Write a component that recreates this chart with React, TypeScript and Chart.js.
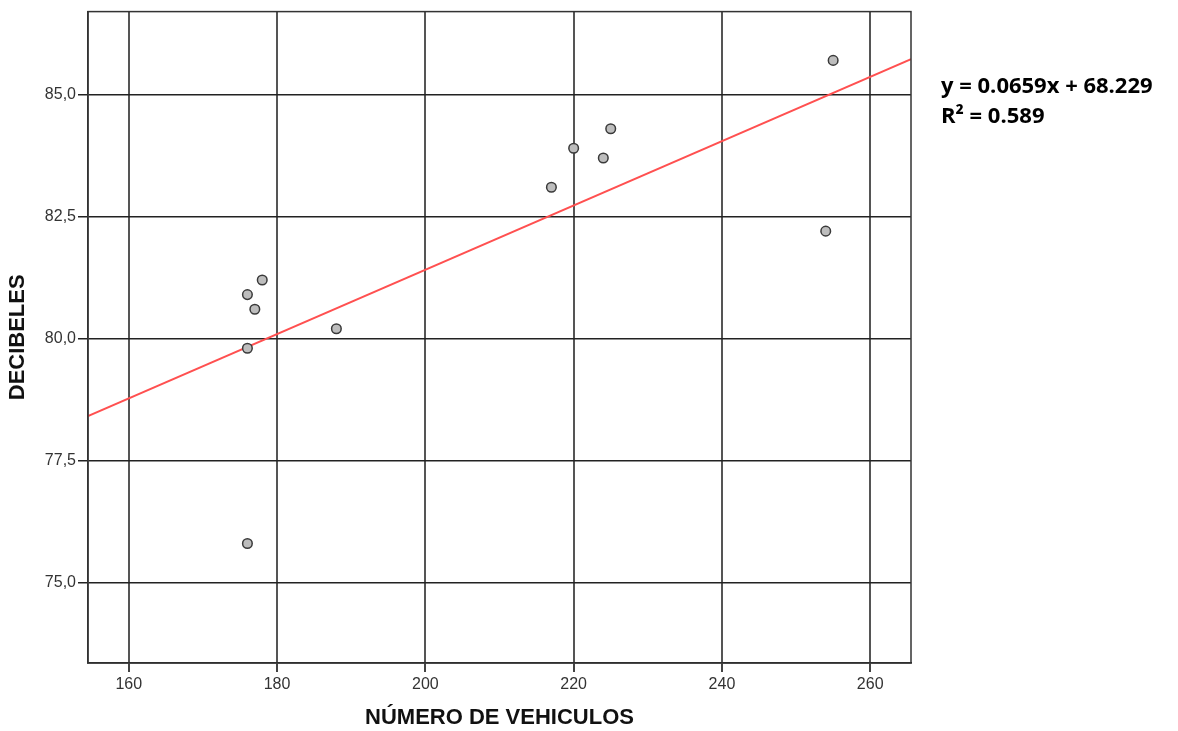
import React, { useEffect, useRef } from "react";
import { Chart, registerables } from "chart.js";

Chart.register(...registerables);

const vehiculos = [176, 177, 178, 176, 188, 176, 217, 220, 224, 225, 255, 254];
const decibeles = [80.9, 80.6, 81.2, 79.8, 80.2, 75.8, 83.1, 83.9, 83.7, 84.3, 85.7, 82.2];
const xTicks = [160, 180, 200, 220, 240, 260];
const yTicks = [75, 77.5, 80, 82.5, 85];
const slope = 0.0659;
const intercept = 68.229;
const xRange = [154.5, 265.5];
const yRange = [73.35, 86.7];
const equationLines = ["y = 0.0659x + 68.229", "R² = 0.589"];

const frame = {
  id: "frame",
  afterDatasetsDraw(chart: any) {
    const { ctx, chartArea } = chart;
    ctx.save();
    ctx.strokeStyle = "#333";
    ctx.lineWidth = 1.5;
    ctx.strokeRect(chartArea.left, chartArea.top, chartArea.right - chartArea.left, chartArea.bottom - chartArea.top);
    ctx.fillStyle = "#000";
    ctx.font = "bold 22px 'Open Sans', 'Liberation Sans', sans-serif";
    ctx.textBaseline = "middle";
    ctx.textAlign = "left";
    ctx.fillText(equationLines[0], 941, 87);
    ctx.fillText(equationLines[1], 941, 117);
    ctx.restore();
  },
};

export default function App() {
  const ref = useRef<HTMLCanvasElement>(null);
  useEffect(() => {
    const points = vehiculos.map((x, i) => ({ x, y: decibeles[i] }));
    const fit = xRange.map((x) => ({ x, y: slope * x + intercept }));
    const chart = new Chart(ref.current!, {
      type: "scatter",
      data: {
        datasets: [
          {
            type: "line",
            data: fit,
            borderColor: "#ff5050",
            borderWidth: 1.8,
            pointRadius: 0,
            fill: false,
            order: 2,
          } as any,
          {
            data: points,
            pointRadius: 4.8,
            pointBackgroundColor: "#bdbdbd",
            pointBorderColor: "#3a3a3a",
            pointBorderWidth: 1.5,
            order: 1,
          },
        ],
      },
      options: {
        animation: false,
        responsive: false,
        layout: { padding: { left: 0, top: 11, right: 267, bottom: 0 } },
        plugins: { legend: { display: false }, tooltip: { enabled: false } },
        scales: {
          x: {
            type: "linear",
            min: xRange[0],
            max: xRange[1],
            afterBuildTicks: (s: any) => {
              s.ticks = xTicks.map((v) => ({ value: v }));
            },
            afterFit: (s: any) => {
              s.height = 68;
            },
            grid: { color: "#555", lineWidth: 2, tickLength: 9, tickColor: "#444" },
            border: { color: "#222", width: 1.5 },
            ticks: {
              color: "#333",
              font: { family: "'Liberation Sans', Arial, sans-serif", size: 16 },
              padding: 3,
              maxRotation: 0,
              callback: (v: any) => String(v),
            },
            title: {
              display: true,
              text: "NÚMERO DE VEHICULOS",
              color: "#111",
              font: { family: "'Liberation Sans', Arial, sans-serif", size: 22, weight: "bold" },
              padding: { top: 10, bottom: 0 },
            },
          },
          y: {
            type: "linear",
            min: yRange[0],
            max: yRange[1],
            afterBuildTicks: (s: any) => {
              s.ticks = yTicks.map((v) => ({ value: v }));
            },
            afterFit: (s: any) => {
              s.width = 88;
            },
            grid: { color: "#222", lineWidth: 1.5, tickLength: 10, tickColor: "#222" },
            border: { color: "#333", width: 1.5 },
            ticks: {
              color: "#333",
              font: { family: "'Liberation Sans', Arial, sans-serif", size: 16 },
              padding: 2,
              callback: (v: any) => Number(v).toFixed(1).replace(".", ","),
            },
            title: {
              display: true,
              text: "DECIBELES",
              color: "#111",
              font: { family: "'Liberation Sans', Arial, sans-serif", size: 22, weight: "bold" },
              padding: { top: 5, bottom: 4 },
            },
          },
        },
      },
      plugins: [frame],
    });
    return () => chart.destroy();
  }, []);
  return (
    <div style={{ position: "absolute", left: 0, top: 0, width: 1178, height: 731, background: "#fff" }}>
      <canvas ref={ref} width={1178} height={731} style={{ display: "block" }} />
    </div>
  );
}
